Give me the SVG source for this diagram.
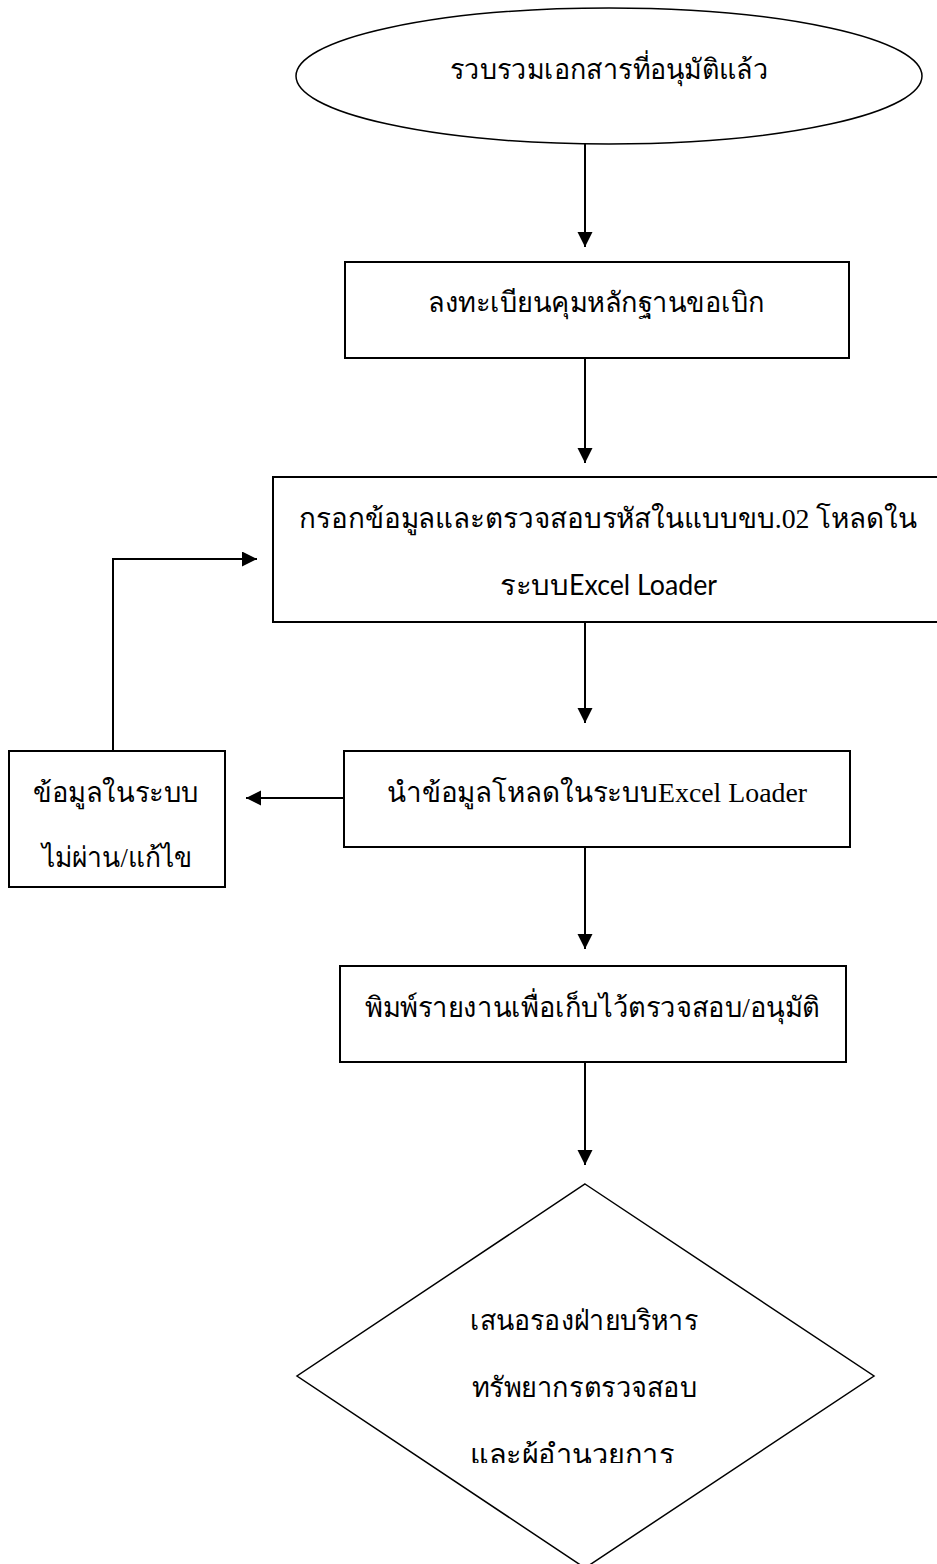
<svg xmlns="http://www.w3.org/2000/svg" width="937" height="1564" viewBox="0 0 937 1564">
<style>
.shape{fill:#fff;stroke:#000;stroke-width:2}
.thin{fill:#fff;stroke:#000;stroke-width:1.5}
.conn{fill:none;stroke:#000;stroke-width:2}
.t{font-family:"Liberation Serif","Noto Sans",serif;font-size:28px;fill:#000}
.s{font-family:Lato,"Liberation Sans",sans-serif;font-size:28px;fill:#000}
</style>
<defs>
<marker id="arr" markerUnits="userSpaceOnUse" markerWidth="16" markerHeight="16" refX="15" refY="7.5" orient="auto">
<path d="M0,0 L15,7.5 L0,15 z" fill="#000"/>
</marker>
<clipPath id="clipD"><rect x="0" y="0" width="937" height="1463"/></clipPath>
</defs>
<rect width="937" height="1564" fill="#fff"/>
<g id="connectors">
<line class="conn" x1="585" y1="144" x2="585" y2="247" marker-end="url(#arr)"/>
<line class="conn" x1="585" y1="358" x2="585" y2="463" marker-end="url(#arr)"/>
<line class="conn" x1="585" y1="622" x2="585" y2="723" marker-end="url(#arr)"/>
<line class="conn" x1="344" y1="798" x2="246" y2="798" marker-end="url(#arr)"/>
<polyline class="conn" points="113,751 113,559 257,559" marker-end="url(#arr)"/>
<line class="conn" x1="585" y1="847" x2="585" y2="949" marker-end="url(#arr)"/>
<line class="conn" x1="585" y1="1062" x2="585" y2="1165" marker-end="url(#arr)"/>
</g>
<g id="start">
<ellipse class="thin" cx="609" cy="76" rx="313" ry="68"/>
<text class="t" x="450" y="79" textLength="318" lengthAdjust="spacingAndGlyphs">รวบรวมเอกสารที่อนุมัติแล้ว</text>
</g>
<g id="register">
<rect class="shape" x="345" y="262" width="504" height="96"/>
<text class="t" x="428" y="312" textLength="337" lengthAdjust="spacingAndGlyphs">ลงทะเบียนคุมหลักฐานขอเบิก</text>
</g>
<g id="fill">
<rect class="shape" x="273" y="477" width="680" height="145"/>
<text class="t" x="299" y="528" textLength="618" lengthAdjust="spacingAndGlyphs">กรอกข้อมูลและตรวจสอบรหัสในแบบขบ.02 โหลดใน</text>
<text class="t" x="500" y="595" textLength="69" lengthAdjust="spacingAndGlyphs">ระบบ</text>
<text class="s" x="569" y="595" textLength="148" lengthAdjust="spacingAndGlyphs">Excel Loader</text>
</g>
<g id="upload">
<rect class="shape" x="344" y="751" width="506" height="96"/>
<text class="t" x="387" y="802" textLength="420" lengthAdjust="spacingAndGlyphs">นำข้อมูลโหลดในระบบExcel Loader</text>
</g>
<g id="fail">
<rect class="shape" x="9" y="751" width="216" height="136"/>
<text class="t" x="33" y="802" textLength="166" lengthAdjust="spacingAndGlyphs">ข้อมูลในระบบ</text>
<text class="t" x="42" y="867" textLength="150" lengthAdjust="spacingAndGlyphs">ไม่ผ่าน/แก้ไข</text>
</g>
<g id="print">
<rect class="shape" x="340" y="966" width="506" height="96"/>
<text class="t" x="365" y="1017" textLength="455" lengthAdjust="spacingAndGlyphs">พิมพ์รายงานเพื่อเก็บไว้ตรวจสอบ/อนุมัติ</text>
</g>
<g id="decision">
<polygon class="thin" points="585,1184 874,1376 585,1568 297,1376"/>
<text class="t" x="470" y="1330" textLength="228" lengthAdjust="spacingAndGlyphs">เสนอรองฝ่ายบริหาร</text>
<text class="t" x="472" y="1397" textLength="225" lengthAdjust="spacingAndGlyphs">ทรัพยากรตรวจสอบ</text>
<text class="t" x="470" y="1464" textLength="204" lengthAdjust="spacingAndGlyphs" clip-path="url(#clipD)">และผู้อำนวยการ</text>
</g>
</svg>
